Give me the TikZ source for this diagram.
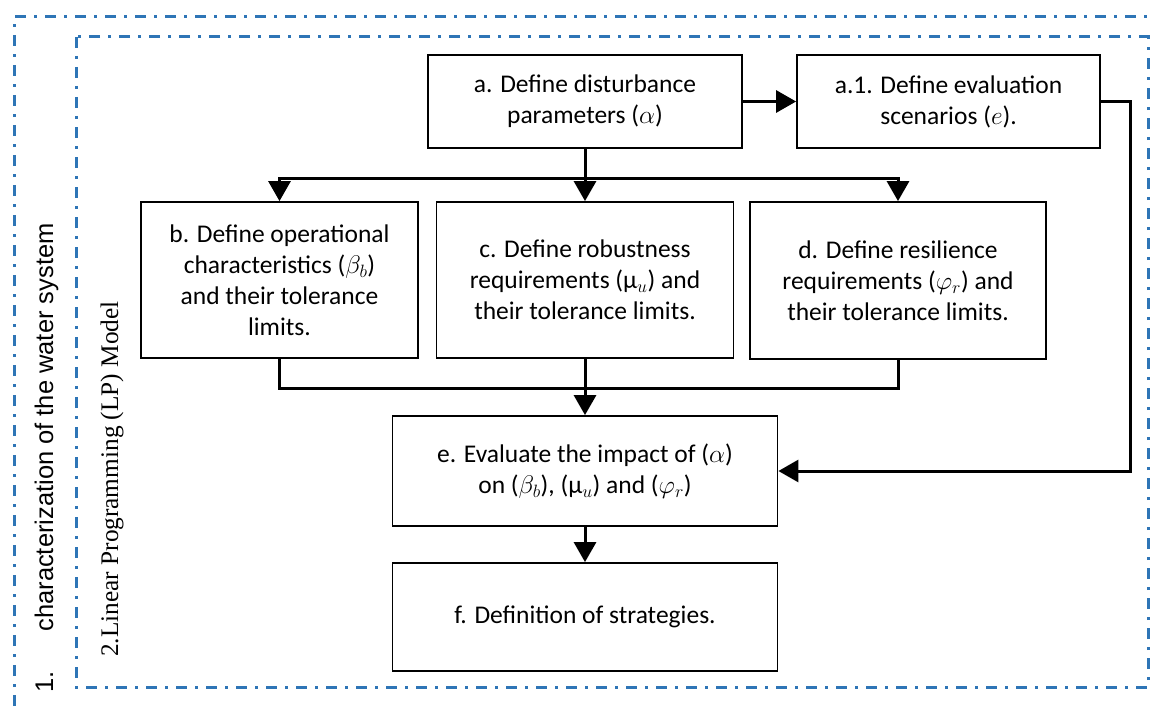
\RequirePackage{fix-cm}
\documentclass[tikz,border=0pt]{standalone}
\usepackage{fontspec}
\setmainfont{Carlito}
\newfontfamily\arialf{Liberation Sans}
\newfontfamily\timesf{Liberation Serif}
\usetikzlibrary{arrows.meta}
\definecolor{frameblue}{HTML}{2E75B6}
\tikzset{
  stepbox/.style={draw=black, line width=1.8pt, inner sep=0pt, align=center,
    font=\fontsize{25.5}{31}\selectfont},
  framebd/.style={draw=frameblue, line width=3pt, dash pattern=on 11pt off 8pt on 3pt off 8pt},
  conn/.style={draw=black, line width=3pt},
  arr/.style={conn, -{Triangle[width=22pt,length=20pt]}}
}
\begin{document}
\begin{tikzpicture}[x=1pt,y=-1pt]
\useasboundingbox (0,0) rectangle (1155,706);
% frames
\draw[framebd] (14,706) -- (14,17) -- (1155,17);
\draw[framebd] (76,37) rectangle (1148,687);
% side labels
\node[rotate=90, anchor=base west, inner sep=0pt, font=\arialf\fontsize{25.5}{30}\selectfont]
  (lab1) at (53,693) {1.\hspace{40pt}characterization of the water system};
\node[rotate=90, anchor=base west, inner sep=0pt, font=\timesf\fontsize{25.3}{29}\selectfont]
  (lab2) at (118,657) {2.Linear Programming (LP) Model};
% boxes
\node[stepbox, minimum width=314pt, minimum height=93pt] (a) at (585,101.5)
  {a. Define disturbance\\parameters ($\alpha$)};
\node[stepbox, minimum width=303pt, minimum height=93pt] (a1) at (948.5,101.5)
  {a.1. Define evaluation\\scenarios ($e$).};
\node[stepbox, minimum width=277pt, minimum height=156pt] (b) at (279.5,280)
  {b. Define operational\\characteristics ($\beta_b$)\\and their tolerance\\limits.};
\node[stepbox, minimum width=297pt, minimum height=156pt] (c) at (585,280)
  {c. Define robustness\\requirements (μ$_u$) and\\their tolerance limits.};
\node[stepbox, minimum width=296pt, minimum height=157pt] (d) at (898,280.5)
  {d. Define resilience\\requirements ($\varphi_r$) and\\their tolerance limits.};
\node[stepbox, minimum width=385pt, minimum height=110pt] (e) at (585,471)
  {e. Evaluate the impact of ($\alpha$)\\on ($\beta_b$), (μ$_u$) and ($\varphi_r$)};
\node[stepbox, minimum width=385pt, minimum height=108pt] (f) at (585,617)
  {f. Definition of strategies.};
% connectors
\coordinate (br) at (585,178);
\coordinate (mg) at (585,388);
\coordinate (rc) at (1130,101.5);
\draw[arr] (a.east) -- (a1.west);
\draw[conn] (a.south) -- (br);
\draw[arr] (br) -| (b.north);
\draw[arr] (br) -| (d.north);
\draw[arr] (br) -- (c.north);
\draw[conn] (b.south) |- (mg);
\draw[conn] (d.south) |- (mg);
\draw[arr] (c.south) -- (e.north);
\draw[arr] (a1.east) -- (rc) |- (e.east);
\draw[arr] (e.south) -- (f.north);
\end{tikzpicture}
\end{document}
